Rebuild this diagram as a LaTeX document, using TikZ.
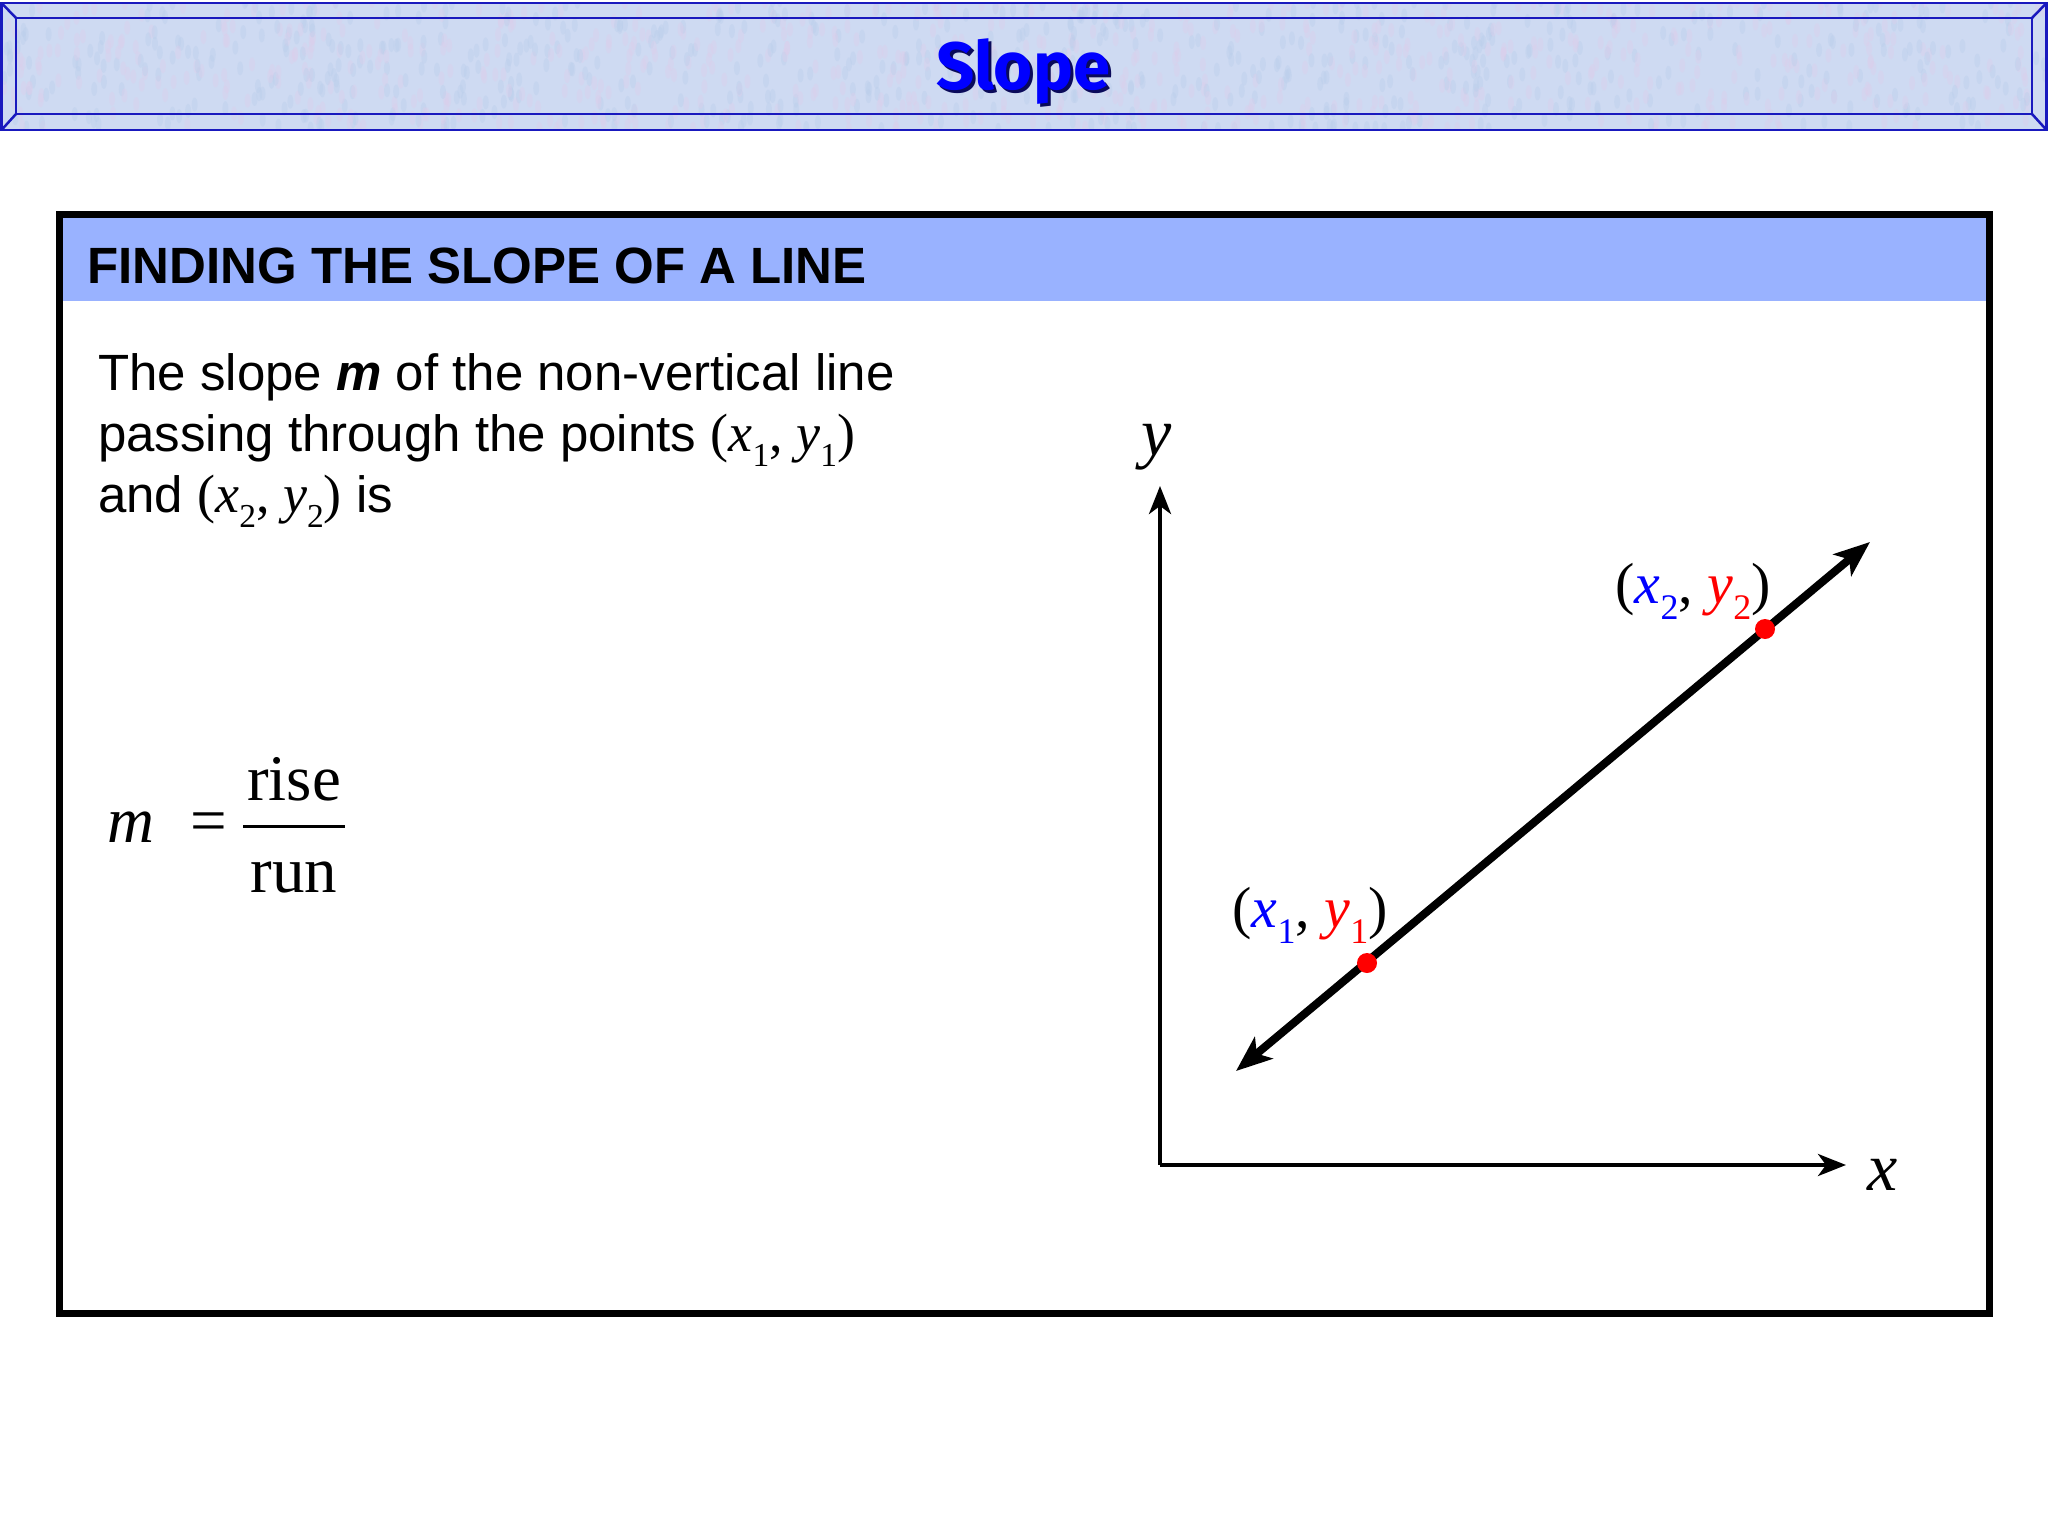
\documentclass[tikz,border=0pt]{standalone}
\usepackage{fontspec}
\setmainfont{Liberation Sans}
\newfontfamily\tms{Liberation Serif}
\newfontfamily\ttlfont{Fira Sans}
\usetikzlibrary{arrows.meta}
\definecolor{titlebg}{RGB}{206,218,242}
\definecolor{speckA}{RGB}{222,205,235}
\definecolor{speckB}{RGB}{185,205,235}
\definecolor{titleln}{RGB}{25,25,190}
\definecolor{hdrbg}{RGB}{153,178,255}
\definecolor{ptblue}{RGB}{0,0,255}
\definecolor{ptred}{RGB}{255,0,0}
\definecolor{shadow}{RGB}{10,10,90}
\newcommand{\mvar}[3]{\textcolor{#1}{{\tms\itshape #2}\raisebox{-0.28em}{\tms\scalebox{0.62}{#3}}}}
\tikzset{
  bevel/.style={draw=titleln, line width=2.5pt},
  hdrtext/.style={anchor=base west, font=\bfseries\fontsize{51}{61}\selectfont},
  bodytext/.style={anchor=base west, font=\fontsize{51}{61}\selectfont, inner sep=0pt},
  formula/.style={anchor=base, font=\tms\fontsize{65}{78}\selectfont, inner sep=0pt},
  axis/.style={line width=4pt, -{Stealth[length=28pt, width=22pt, inset=8pt]}},
  slopeline/.style={line width=8pt, {Stealth[length=36pt, width=28pt, inset=9pt]}-{Stealth[length=36pt, width=28pt, inset=9pt]}},
  pt/.style={circle, fill=ptred, inner sep=0pt, minimum size=20pt},
  ptlabel/.style={font=\tms\fontsize{58}{70}\selectfont, inner sep=0pt},
  axlabel/.style={font=\tms\itshape\fontsize{68}{80}\selectfont, inner sep=0pt},
  ttl/.style={anchor=base, font=\ttlfont\bfseries\fontsize{67}{80}\selectfont}
}
\begin{document}
\begin{tikzpicture}[x=1pt, y=-1pt]
\useasboundingbox (0,0) rectangle (2048,1536);
\fill[white] (0,0) rectangle (2048,1536);
% title bar
\fill[titlebg] (1.5,3) rectangle (2046.5,130);
\begin{scope}
\clip (1.5,3) rectangle (2046.5,130);
\pgfmathsetseed{7}
\foreach \i in {1,...,1400} {
  \pgfmathsetmacro{\px}{rnd*2048}
  \pgfmathsetmacro{\py}{rnd*130}
  \pgfmathsetmacro{\pc}{rnd}
  \ifdim\pc pt<0.5pt
    \fill[speckA, opacity=0.35] (\px,\py) ellipse (3pt and 7pt);
  \else
    \fill[speckB, opacity=0.35] (\px,\py) ellipse (3pt and 7pt);
  \fi
}
\end{scope}
\draw[bevel] (1.5,3) rectangle (2046.5,130);
\draw[bevel] (16,18) rectangle (2032,114);
\draw[bevel] (1.5,3) -- (16,18) (2046.5,3) -- (2032,18) (1.5,130) -- (16,114) (2046.5,130) -- (2032,114);
\node[ttl, text=shadow] (titleshadow) at (1026,93) {Slope};
\node[ttl, text=ptblue] (title) at (1023,90) {Slope};
% main box
\fill[hdrbg] (60,218) rectangle (1988,301);
\draw[line width=7pt] (59,214) rectangle (1989,1313);
\node[hdrtext] (hdr) at (84,283) {FINDING THE SLOPE OF A LINE};
\node[bodytext] (l1) at (98,390) {The slope \textbf{\textit{m}} of the non-vertical line};
\node[bodytext] (l2) at (98,451) {passing through the points {\fontsize{54}{60}\selectfont\tms(\mvar{black}{x}{1}, \mvar{black}{y}{1})}};
\node[bodytext] (l3) at (98,512) {and {\fontsize{54}{60}\selectfont\tms(\mvar{black}{x}{2}, \mvar{black}{y}{2})} is};
% formula
\node[formula] (m) at (131,842) {\itshape m};
\node[formula] (eq) at (209,842) {=};
\node[formula] (rise) at (294,800) {rise};
\node[formula] (run) at (294,892) {run};
\coordinate (barL) at (243,826);
\coordinate (barR) at (345,826);
\draw[line width=3pt] (barL) -- (barR);
% axes
\coordinate (O) at (1160,1165);
\coordinate (ytip) at (1160,486);
\coordinate (xtip) at (1846,1165);
\draw[axis] (O) -- (ytip);
\draw[axis] (O) -- (xtip);
\node[axlabel] (ylab) at (1157,447) {y};
\node[axlabel] (xlab) at (1883,1175) {x};
% line
\coordinate (LA) at (1236,1071);
\coordinate (LB) at (1870,542);
\draw[slopeline] (LA) -- (LB);
\node[pt] (P1) at (1367,963) {};
\node[pt] (P2) at (1765,629) {};
\node[ptlabel] (P1lab) at (1310,915) {(\mvar{ptblue}{x}{1}, \mvar{ptred}{y}{1})};
\node[ptlabel] (P2lab) at (1693,591) {(\mvar{ptblue}{x}{2}, \mvar{ptred}{y}{2})};
\end{tikzpicture}
\end{document}
